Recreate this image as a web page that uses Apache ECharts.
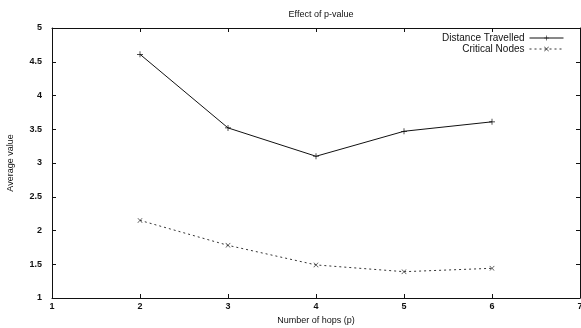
<!DOCTYPE html>
<html>
<head>
<meta charset="utf-8">
<script src="https://cdn.jsdelivr.net/npm/echarts@6/dist/echarts.min.js"></script>
<style>
  html, body { margin: 0; padding: 0; background: #fff; }
  #chart { width: 581px; height: 328px; }
</style>
</head>
<body>
<div id="chart"></div>
<script>
// data
var hops = [2, 3, 4, 5, 6];
var distanceTravelled = [4.61, 3.52, 3.10, 3.47, 3.61];
var criticalNodes = [2.15, 1.78, 1.49, 1.39, 1.44];

var plusSym = 'path://M4.4,0h1.2v10h-1.2zM0,4.4h10v1.2h-10z';
var crossSym = 'path://M0.8,0L5,4.2L9.2,0L10,0.8L5.8,5L10,9.2L9.2,10L5,5.8L0.8,10L0,9.2L4.2,5L0,0.8z';

function pairs(xs, ys) {
    var out = [];
    for (var i = 0; i < xs.length; i++) out.push([xs[i], ys[i]]);
    return out;
}

var font = 'Liberation Sans';
var axisLine = { lineStyle: { color: '#111', width: 1 } };

var myChart = echarts.init(document.getElementById('chart'));
myChart.setOption({
    animation: false,
    title: {
        text: 'Effect of p-value',
        left: 316,
        textAlign: 'center',
        top: 5,
        textStyle: { fontFamily: font, fontSize: 9, fontWeight: 'normal', color: '#111' }
    },
    legend: {
        orient: 'vertical',
        right: 12,
        top: 28,
        align: 'right',
        itemWidth: 34,
        itemHeight: 6,
        itemGap: 1,
        lineStyle: { width: 1 },
        textStyle: { fontFamily: font, fontSize: 10, color: '#111', padding: [0, 0, 0, 0] },
        data: ['Distance Travelled', 'Critical Nodes']
    },
    grid: { left: 52, right: 1, top: 28, bottom: 30, containLabel: false, outerBoundsMode: 'none' },
    xAxis: [
        {
            type: 'value', min: 1, max: 7, interval: 1,
            name: 'Number of hops (p)', nameLocation: 'middle', nameGap: 15,
            nameTextStyle: { fontFamily: font, fontSize: 9, color: '#111' },
            axisLine: axisLine,
            axisTick: { inside: true, length: 4, lineStyle: { color: '#111' } },
            axisLabel: { fontFamily: font, fontSize: 9, fontWeight: 'bold', color: '#111', margin: 4 },
            splitLine: { show: false }
        },
        {
            type: 'value', min: 1, max: 7, interval: 1, position: 'top',
            axisLine: axisLine,
            axisTick: { inside: true, length: 4, lineStyle: { color: '#111' } },
            axisLabel: { show: false },
            splitLine: { show: false }
        }
    ],
    yAxis: [
        {
            type: 'value', min: 1, max: 5, interval: 0.5,
            name: 'Average value', nameLocation: 'middle', nameGap: 37,
            nameTextStyle: { fontFamily: font, fontSize: 9, color: '#111' },
            axisLine: axisLine,
            axisTick: { inside: true, length: 4, lineStyle: { color: '#111' } },
            axisLabel: { fontFamily: font, fontSize: 9, fontWeight: 'bold', color: '#111', margin: 10 },
            splitLine: { show: false }
        },
        {
            type: 'value', min: 1, max: 5, interval: 0.5, position: 'right',
            axisLine: axisLine,
            axisTick: { inside: true, length: 4, lineStyle: { color: '#111' } },
            axisLabel: { show: false },
            splitLine: { show: false }
        }
    ],
    series: [
        {
            name: 'Distance Travelled',
            type: 'line',
            data: pairs(hops, distanceTravelled),
            symbol: plusSym,
            symbolSize: 6,
            color: '#111',
            lineStyle: { color: '#111', width: 1 },
            itemStyle: { color: '#111' }
        },
        {
            name: 'Critical Nodes',
            type: 'line',
            data: pairs(hops, criticalNodes),
            symbol: crossSym,
            symbolSize: 5,
            color: '#333',
            lineStyle: { color: '#333', width: 1, type: [2, 3] },
            itemStyle: { color: '#333' }
        }
    ]
});
</script>
</body>
</html>
